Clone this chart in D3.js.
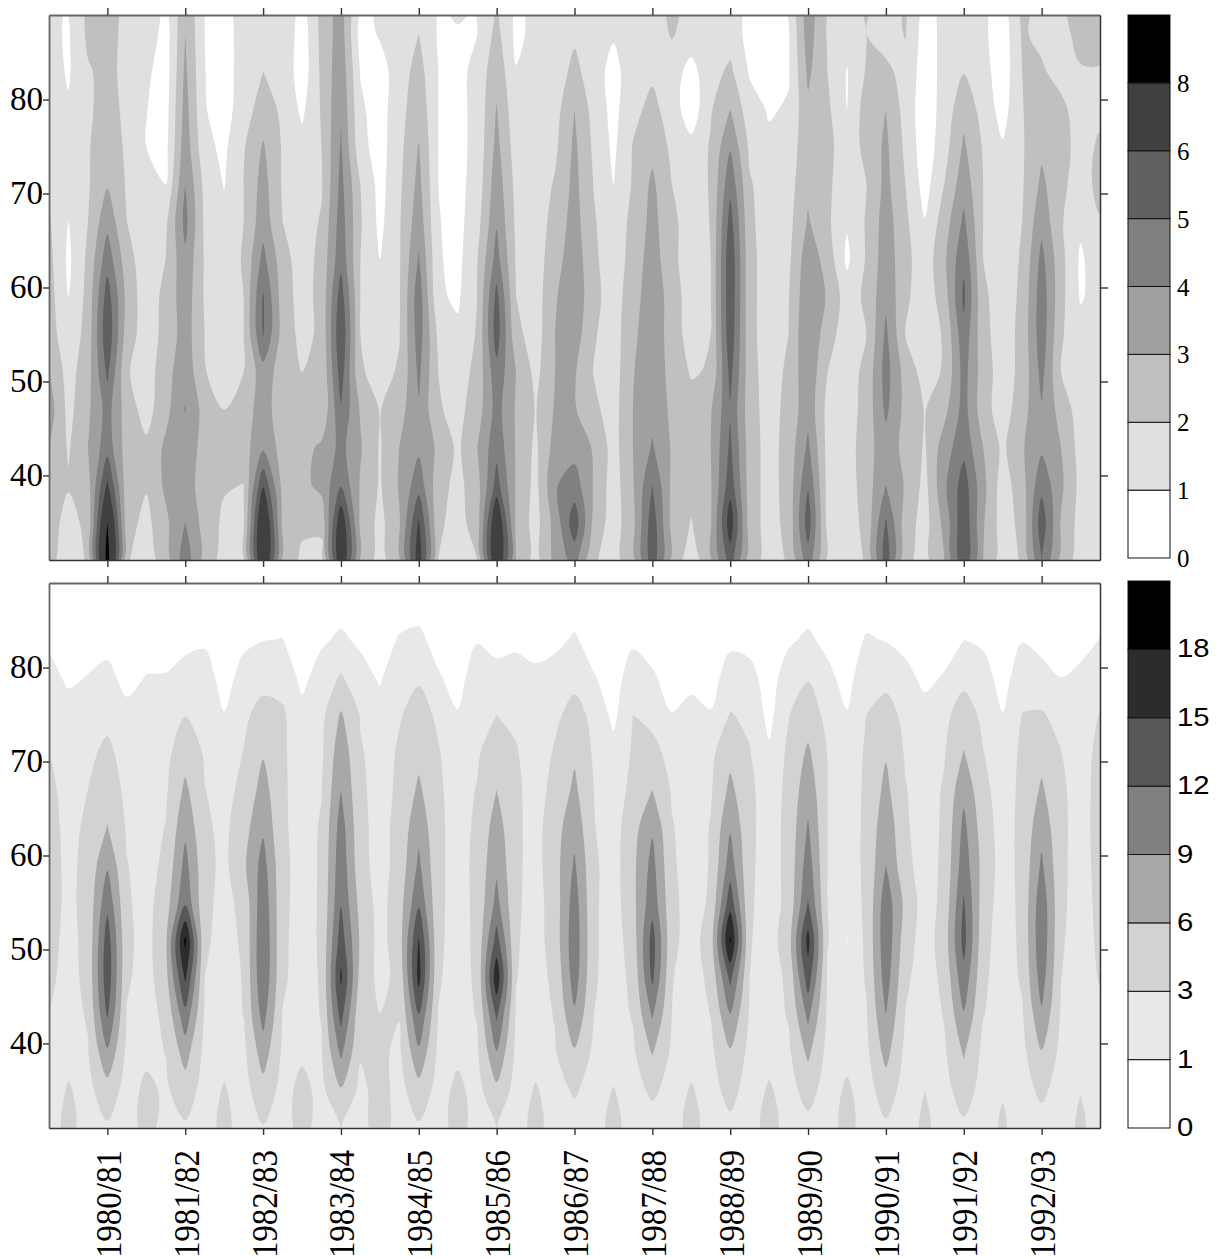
<!DOCTYPE html>
<html>
<head>
<meta charset="utf-8">
<script src="https://cdnjs.cloudflare.com/ajax/libs/d3/7.9.0/d3.min.js"></script>
<style>
  html, body { margin: 0; padding: 0; background: #fff; }
  svg { display: block; }
  .axis path { stroke: #666; stroke-width: 1.8; }
  .axis line { stroke: #333; stroke-width: 1.4; }
  .axis.dark path { stroke: #333; stroke-width: 1.5; }
</style>
</head>
<body>
<svg id="chart" width="1216" height="1258"></svg>
<script>
const serifFont = '"Liberation Serif", "Times New Roman", Times, serif';
const sansFont = '"Liberation Sans", Arial, Helvetica, sans-serif';

const seasons = ['1980/81', '1981/82', '1982/83', '1983/84', '1984/85', '1985/86', '1986/87',
  '1987/88', '1988/89', '1989/90', '1990/91', '1991/92', '1992/93'];
const latTicks = [40, 50, 60, 70, 80];

// grid rows: latitude of each value in a column
const lats = [31, 35, 39, 43, 47, 51, 55, 59, 63, 67, 71, 75, 79, 83, 87, 91];
// grid columns run from 9 months before the first season, 3 months apart
const firstStep = -0.75;
const stepYears = 0.25;

const topLevels = [1, 2, 3, 4, 5, 6, 8];
const topColors = ['#e0e0e0', '#c0c0c0', '#a0a0a0', '#808080', '#606060', '#404040', '#000000'];
const topBarLabels = ['0', '1', '2', '3', '4', '5', '6', '8'];

const bottomLevels = [1, 3, 6, 9, 12, 15, 18];
const bottomColors = ['#e8e8e8', '#d2d2d2', '#a8a8a8', '#808080', '#585858', '#2c2c2c', '#000000'];
const bottomBarLabels = ['0', '1', '3', '6', '9', '12', '15', '18'];

// one line per time step
const topCols = [
  [2.3,2.5,2.7,3.0,3.5,3.0,2.5,2.4,2.3,2.1,1.8,1.6,1.5,1.4,1.2,1.2],
  [1.5,1.6,2.1,1.9,1.7,1.6,1.3,1.0,0.8,1.0,1.3,1.4,1.1,0.9,0.9,0.9],
  [2.1,2.3,2.6,3.0,2.8,2.6,2.4,2.3,2.2,2.0,1.9,1.9,1.8,1.9,2.2,2.2],
  [8.6,8.0,6.2,4.6,4.4,5.2,5.8,5.5,4.6,3.7,2.9,2.7,2.5,2.3,2.5,2.5],
  [2.1,2.4,2.4,2.5,2.5,2.1,2.5,2.7,2.4,2.0,1.9,1.8,1.7,1.7,1.6,1.6],
  [1.5,1.7,2.1,2.2,1.6,1.5,1.5,1.4,1.4,1.3,1.1,1.0,1.03,1.2,1.8,2.2],
  [2.5,2.8,3.2,3.2,2.7,2.6,2.3,2.3,2.0,1.8,1.0,0.7,0.6,0.5,0.5,0.5],
  [4.6,4.0,3.4,3.5,4.05,3.7,3.5,3.6,3.8,4.3,4.0,3.6,3.4,3.2,3.0,2.7],
  [2.6,2.6,2.6,2.7,2.6,2.05,2.0,1.9,1.9,1.8,1.7,1.25,1.05,1.02,1.0,1.0],
  [1.6,1.8,2.1,2.4,2.0,1.5,1.5,1.4,1.4,1.3,0.95,0.8,0.6,0.6,0.6,0.6],
  [1.75,1.9,1.98,2.6,2.6,2.0,2.0,2.0,2.1,2.0,2.0,1.9,1.5,1.4,1.4,1.4],
  [7.6,7.6,5.9,3.8,3.4,3.6,5.05,5.1,4.3,3.6,3.4,3.1,2.5,2.0,1.7,1.7],
  [2.7,2.8,2.7,2.6,2.5,2.5,2.6,2.5,2.4,2.0,1.9,1.9,1.8,1.8,2.0,2.0],
  [1.8,2.2,2.7,2.6,2.4,2.0,1.7,1.6,1.5,1.5,1.4,1.3,0.8,0.4,0.4,0.4],
  [1.6,2.3,3.3,3.2,2.1,2.1,2.2,2.3,2.3,2.1,1.9,2.0,2.1,2.2,2.3,2.3],
  [7.2,6.9,4.9,4.3,4.9,5.5,5.9,5.5,4.7,4.5,4.3,4.1,3.9,3.7,3.5,3.4],
  [2.8,2.8,2.9,3.1,2.9,2.1,2.0,2.0,2.0,2.1,2.0,1.3,1.15,0.95,0.6,0.6],
  [1.6,1.7,1.9,1.9,1.95,1.7,1.6,1.5,1.0,0.75,0.65,0.6,0.6,0.6,1.1,1.2],
  [2.8,2.9,3.1,3.0,2.6,2.1,1.95,1.9,1.9,1.9,1.8,1.7,1.6,1.5,1.5,1.5],
  [6.6,6.1,4.6,3.8,3.9,4.2,4.5,4.6,4.1,3.6,3.3,3.05,2.7,2.4,2.0,1.7],
  [2.0,2.2,2.4,2.8,2.1,2.0,1.8,1.15,1.1,1.05,1.0,1.0,1.0,1.0,0.9,0.85],
  [1.6,1.6,1.7,1.8,1.7,1.5,1.2,0.85,0.7,0.7,0.7,0.7,0.7,0.7,0.9,1.3],
  [2.0,2.5,2.6,3.0,2.5,2.3,2.1,2.0,1.95,1.6,1.4,1.3,1.3,1.3,0.98,0.95],
  [7.4,7.2,5.4,4.7,4.4,4.7,5.5,5.3,4.4,3.9,3.6,3.3,3.05,2.7,2.3,1.9],
  [3.0,2.8,2.9,2.9,2.9,3.0,2.3,2.0,1.9,1.8,1.7,1.5,1.3,1.05,0.75,0.7],
  [1.6,1.6,1.7,1.8,1.95,1.7,1.5,1.5,1.5,1.4,1.4,1.4,1.4,1.3,1.3,1.3],
  [3.3,3.4,3.9,3.4,3.1,3.0,3.0,2.9,2.6,2.4,2.1,1.8,1.6,1.4,1.3,1.3],
  [4.4,5.6,4.5,3.6,3.1,3.1,3.5,3.7,3.6,3.4,3.3,3.2,3.0,2.3,1.8,1.4],
  [2.1,2.7,2.9,2.9,2.2,1.95,2.1,2.3,2.2,2.1,1.95,1.8,1.6,1.4,1.3,1.3],
  [1.6,1.5,1.5,1.6,1.6,1.5,1.5,1.5,1.4,1.3,1.0,0.8,0.7,0.7,1.1,1.2],
  [2.7,2.7,2.9,3.0,3.0,2.95,2.8,2.6,2.4,2.3,2.1,2.05,1.7,1.5,1.4,1.4],
  [5.6,5.6,5.0,4.1,3.7,3.6,3.6,3.6,3.5,3.3,3.2,2.7,2.3,1.8,1.4,1.4],
  [2.8,2.7,2.8,2.9,2.8,2.7,2.6,2.6,2.3,2.3,2.0,1.8,1.5,1.4,2.1,2.3],
  [1.3,1.95,2.3,2.5,2.4,1.9,1.5,1.4,1.4,1.4,1.4,1.3,0.4,0.7,1.5,1.6],
  [2.9,2.9,2.9,3.0,2.9,2.1,2.0,2.0,2.0,2.05,2.1,2.1,1.9,1.6,1.4,1.4],
  [5.5,6.6,5.6,5.2,4.9,5.3,5.7,5.8,5.8,5.4,4.7,3.9,3.0,2.2,1.5,1.4],
  [2.5,2.5,2.5,2.5,2.4,2.4,2.3,2.3,2.3,2.2,2.1,1.8,1.4,0.9,0.7,0.7],
  [1.6,1.6,1.6,1.6,1.6,1.5,1.5,1.5,1.5,1.5,1.5,1.2,0.9,0.7,0.5,0.5],
  [2.1,2.3,2.4,2.4,2.3,2.2,2.0,1.95,1.8,1.7,1.6,1.4,1.1,0.9,0.9,0.9],
  [4.6,5.5,4.9,4.2,3.7,3.8,4.0,3.8,3.6,3.1,2.8,2.7,2.8,3.2,3.5,3.6],
  [1.8,1.7,1.7,1.7,1.7,2.0,2.4,2.9,2.6,2.2,2.2,2.3,2.2,2.0,1.9,1.7],
  [1.5,1.5,1.5,1.5,1.5,1.5,1.5,1.5,0.8,1.1,1.4,1.4,0.98,0.95,1.4,1.5],
  [2.1,2.3,2.5,2.6,2.4,2.3,2.0,2.2,2.1,2.1,2.0,2.3,2.5,2.1,2.0,2.2],
  [5.6,5.1,4.0,3.6,4.2,4.4,4.2,3.8,3.6,3.5,3.3,3.2,3.0,2.2,1.6,1.6],
  [2.2,2.5,2.9,2.7,2.7,2.6,2.0,2.2,2.3,2.2,2.0,1.8,1.6,1.7,2.05,2.1],
  [1.7,1.6,1.7,1.9,1.95,1.6,1.5,1.4,1.4,1.05,0.6,0.4,0.4,0.5,0.5,0.5],
  [3.0,3.3,3.8,3.5,2.7,2.1,2.1,2.5,2.8,2.5,2.0,1.6,1.4,1.3,1.3,1.3],
  [5.9,5.8,5.5,4.7,4.4,4.4,4.7,5.2,4.8,4.2,3.6,3.15,2.7,1.95,1.6,1.6],
  [3.0,3.1,3.3,3.0,2.4,2.5,2.3,2.2,2.0,2.0,2.0,1.9,1.6,1.4,1.2,1.2],
  [1.5,1.5,1.5,1.8,1.5,1.5,1.5,1.5,1.5,1.5,1.5,1.1,0.6,0.4,0.4,0.4],
  [2.1,2.3,2.6,2.9,2.6,2.3,2.3,2.2,2.1,2.0,1.9,1.9,1.95,2.0,2.1,2.3],
  [5.0,5.6,4.7,3.8,3.9,4.3,4.6,4.6,4.3,3.7,3.2,2.8,2.6,2.1,1.8,1.7],
  [2.7,2.9,3.2,3.0,2.6,2.0,2.1,2.3,2.3,2.1,2.3,2.5,2.2,1.7,1.6,1.8],
  [1.5,1.6,1.7,1.6,1.5,1.4,1.4,0.9,0.85,1.2,1.4,1.5,1.6,1.9,2.4,2.6],
  [1.5,1.5,1.5,1.5,1.5,1.5,1.5,1.4,1.6,1.9,2.4,2.2,1.7,1.9,2.5,2.6]
];

// same grid, values
const bottomCols = [
  [1.7,1.8,2.0,3.0,3.6,3.9,4.1,4.2,4.0,3.6,2.9,2.2,1.57,.58,.25,.2],
  [3.8,3.2,2.4,2.0,2.0,2.2,2.4,2.3,2.2,2.1,2.0,1.72,.68,.4,.25,.2],
  [1.8,2.2,2.8,3.25,3.8,3.8,3.85,3.85,3.5,3.0,2.4,2.0,1.06,.3,.25,.2],
  [2.6,4.7,8.5,12.3,14,13.5,11.2,8.6,6.1,4.9,3.6,2.2,1.42,.48,.25,.2],
  [1.6,1.9,2.4,2.8,3.4,3.65,3.35,3.1,2.7,2.2,1.9,1.45,.5,.3,.25,.2],
  [4.0,3.6,2.4,1.9,1.8,1.9,2.0,2.0,1.9,1.9,1.9,1.9,1.06,.3,.25,.2],
  [2.0,2.6,3.05,3.65,5.0,5.4,4.6,3.6,3.1,2.6,2.2,2.0,1.09,.3,.25,.2],
  [2.6,4.5,7.2,11.0,15.5,18.6,11.5,10.0,8.3,6.6,4.8,2.9,1.57,.58,.25,.2],
  [1.7,1.9,2.2,2.7,3.0,3.45,3.65,3.9,3.5,3.05,2.7,2.2,1.78,.72,.25,.2],
  [3.8,3.2,2.3,1.9,1.9,2,2.2,2.3,2.3,2.2,1.9,1.06,.3,.2,.2,.2],
  [1.7,1.9,2.3,3.05,3.15,3.4,3.8,5.4,4.8,3.65,3.05,2.5,1.63,.62,.25,.2],
  [2.8,4.8,7.5,10.1,11.7,11.8,11.2,10.2,8.5,7.2,5.7,3.9,2.1,.94,.25,.2],
  [1.7,2.1,2.5,2.9,3.4,3.55,3.65,3.7,3.45,3.4,3.35,3.3,2.2,1.03,.25,.2],
  [4.0,3.7,2.6,2,1.9,1.8,1.9,1.9,1.9,1.9,1.8,1.5,.54,.3,.25,.2],
  [1.8,2.3,2.8,3.1,3.25,3.4,3.35,3.3,3.25,2.9,2.5,2.2,1.78,.72,.25,.2],
  [3.0,5.7,9.6,13,15.5,13.5,11.8,11.1,10.4,9.0,7.9,6.3,3.2,1.3,.25,.2],
  [1.9,2.3,3.3,3.6,4.9,5.5,4.9,3.95,3.8,3.55,3.25,2.8,1.69,.66,.25,.2],
  [4.4,4.1,3.5,3.05,2.2,2.0,2.0,1.9,1.9,1.9,1.9,1.84,.76,.3,.25,.2],
  [1.7,2.0,2.5,3.1,3.75,4.6,4.6,4.05,4.0,3.55,3.3,2.8,2.4,1.12,.25,.2],
  [2.6,4.8,8.4,11.9,16,15.2,11.5,9.6,8.1,6.5,5.2,3.9,2.7,1.39,.25,.2],
  [1.7,2.0,2.4,2.9,3.3,3.6,3.65,3.65,3.65,3.45,3.15,2.6,1.18,.32,.25,.2],
  [4.1,3.6,2.5,1.9,1.8,1.7,1.8,1.8,1.8,1.8,1.8,1.12,.3,.2,.2,.2],
  [1.8,2.1,2.6,3.15,3.5,3.7,3.7,3.8,3.55,3.15,2.6,2.3,1.99,.86,.25,.2],
  [3.0,5.2,8.8,12.5,17,13.2,9.9,8.4,7.4,6.0,4.9,3.0,1.48,.52,.25,.2],
  [1.7,1.9,2.3,2.7,3.1,3.3,3.45,3.5,3.5,3.45,3.15,2.6,1.66,.64,.25,.2],
  [3.9,3.2,2.3,1.9,1.8,1.8,1.9,2,2,2,1.9,1.8,1.33,.42,.25,.2],
  [1.7,2.1,2.8,3.15,3.7,4.4,4.4,4.8,4.7,3.8,3.2,2.6,1.63,.62,.25,.2],
  [1.9,3.3,5.6,8.5,10.5,11,10.5,9.4,8.1,6.6,5.5,3.7,2.4,1.18,.25,.2],
  [1.7,2.0,2.4,3.0,3.35,3.45,3.45,3.45,3.1,3.0,2.6,2.5,1.1,.3,.25,.2],
  [3.9,3.1,2.2,1.8,1.7,1.6,1.7,1.8,1.8,1.8,1.66,.5,.3,.2,.2,.2],
  [1.7,2.0,2.5,3.2,3.7,4.4,5.1,5.2,4.8,3.65,3.2,3.0,1.78,.72,.25,.2],
  [1.7,3.5,6.2,9.3,12.6,13.2,10.9,10,8.6,6.0,3.7,2.3,1.2,.32,.25,.2],
  [1.7,2.0,2.5,3.0,3.15,3.8,3.8,3.45,3.2,2.7,2.2,1.05,.4,.2,.2,.2],
  [4,3.2,2.2,1.8,1.7,1.7,1.7,1.7,1.7,1.7,1.6,1.5,.54,.3,.25,.2],
  [1.7,2.0,2.4,3.05,3.7,4.6,3.45,3.2,3.15,2.7,2.3,1.1,.4,.2,.2,.2],
  [2.3,3.9,5.6,8.8,12.8,18.4,13.8,10.5,8.7,6.7,5.1,3.1,1.69,.66,.25,.2],
  [1.6,1.8,2.2,2.7,3.0,3.2,3.4,3.55,3.65,3.6,3.1,2.6,1.5,.5,.25,.2],
  [4.2,3.3,2.2,1.8,1.7,1.7,1.7,1.7,1.7,1.6,1.3,.4,.3,.2,.2,.2],
  [1.7,2.0,2.5,3.2,3.6,4.7,3.8,3.9,3.85,3.7,3.4,2.9,1.78,.73,.25,.2],
  [2.2,4.0,6.6,9.7,13.6,16,12.2,10.6,9.3,8.0,6.5,4.5,2.8,1.3,.25,.2],
  [1.6,1.9,2.1,2.5,2.7,3.15,3.0,3.0,3.0,3.0,2.9,2.2,1.48,.5,.25,.2],
  [4,3.4,2.3,1.7,1.4,.95,1.5,1.6,1.7,1.7,1.6,1.12,.3,.2,.2,.2],
  [1.6,1.9,2.3,2.8,3.2,3.45,3.5,3.6,3.55,3.45,3.3,3.0,2.3,1.15,.25,.2],
  [2.5,4.4,7,9,10.5,11.2,10.8,9.0,8.1,6.8,5.7,4.2,2.1,.92,.25,.2],
  [1.6,1.9,2.3,2.9,3.55,4.4,5.2,3.8,3.4,3.15,2.7,2.2,1.48,.5,.25,.2],
  [3.6,3.0,2.1,1.7,1.6,1.6,1.6,1.7,1.7,1.7,1.7,1.6,.6,.3,.25,.2],
  [1.7,2.0,2.6,3.15,3.75,4.4,3.85,3.6,3.45,3.3,2.8,2.3,1.12,.3,.25,.2],
  [2.4,4.4,6.3,8.7,11.1,13,12.3,10.7,9.8,8.2,6.1,4.3,2.2,1.0,.25,.2],
  [1.6,1.9,2.2,3.1,3.55,3.95,4.4,4.9,4.4,3.75,3.05,2.4,1.71,.7,.25,.2],
  [3.4,2.8,2,1.7,1.6,1.6,1.7,1.8,1.8,1.7,1.6,1.06,.3,.2,.2,.2],
  [1.6,1.9,2.2,2.7,3.35,3.6,3.7,3.75,3.75,3.65,3.45,3.05,2.0,.9,.25,.2],
  [1.8,3.6,5.8,8.5,10.4,11.3,11,9.5,8.0,6.4,5.1,3.2,1.5,.52,.25,.2],
  [1.6,1.8,2.2,2.7,3.05,3.35,3.6,3.6,3.65,3.5,3.05,2.3,1.0,.3,.25,.2],
  [3.5,2.9,2,1.7,1.6,1.6,1.7,1.8,1.8,1.8,1.8,1.7,1.4,.4,.25,.2],
  [1.7,1.8,1.9,2.2,3.2,3.6,3.8,4.0,4.2,4.1,3.8,3.1,2.0,1.05,.25,.2]
];

const svg = d3.select('#chart');
const x = d3.scaleLinear().domain([firstStep, firstStep + stepYears * (topCols.length - 1)]).range([49, 1100]);

function drawPanel(id, cols, levels, colors, top, bottom, showSeasons) {
  const y = d3.scaleLinear().domain([31, 89]).range([bottom, top]);
  const nx = cols.length;
  const ny = lats.length;
  const values = [];
  for (let j = 0; j < ny; j++) for (let i = 0; i < nx; i++) values.push(cols[i][j]);

  svg.append('clipPath').attr('id', id)
    .append('rect').attr('x', 49).attr('y', top).attr('width', 1051).attr('height', bottom - top);

  const g = svg.append('g').attr('clip-path', `url(#${id})`);
  g.append('rect').attr('x', 49).attr('y', top).attr('width', 1051).attr('height', bottom - top).attr('fill', '#fff');

  // contour points sit half a cell off the grid index
  const ring = d3.line()
    .x((p) => x(firstStep + (p[0] - 0.5) * stepYears))
    .y((p) => y(lats[0] + (p[1] - 0.5) * (lats[1] - lats[0])))
    .curve(d3.curveCatmullRomClosed.alpha(0.5));

  const contours = d3.contours().size([nx, ny]).thresholds(levels)(values);
  contours.forEach((c, idx) => {
    const d = c.coordinates
      .flatMap((poly) => poly.map((r) => ring(r.slice(0, -1))))
      .join('');
    g.append('path').attr('d', d).attr('fill', colors[idx]).attr('fill-rule', 'evenodd');
  });

  const seasonVals = seasons.map((_, i) => i);
  const fmt = (d) => seasons[d];

  svg.append('g').attr('class', 'axis').attr('transform', `translate(0,${top})`)
    .call(d3.axisTop(x).tickValues(seasonVals).tickSize(7).tickSizeOuter(0).tickFormat(''));
  svg.append('g').attr('class', 'axis dark').attr('transform', 'translate(1100,0)')
    .call(d3.axisRight(y).tickValues(latTicks).tickSize(8).tickSizeOuter(0).tickFormat(''));

  const left = svg.append('g').attr('class', 'axis').attr('transform', 'translate(49,0)')
    .call(d3.axisLeft(y).tickValues(latTicks).tickSize(6).tickSizeOuter(0).tickFormat(d3.format('d')));
  left.selectAll('text')
    .attr('font-family', serifFont).attr('font-size', 33).attr('fill', '#000')
    .attr('x', -6).attr('dy', 10);

  const bot = svg.append('g').attr('class', 'axis dark').attr('transform', `translate(0,${bottom})`)
    .call(d3.axisBottom(x).tickValues(seasonVals).tickSize(7).tickSizeOuter(0).tickFormat(showSeasons ? fmt : ''));
  if (showSeasons) {
    bot.selectAll('text')
      .attr('font-family', serifFont)
      .attr('font-size', 33)
      .attr('fill', '#000')
      .attr('text-anchor', 'end')
      .attr('x', 0).attr('y', 0).attr('dy', 0)
      .attr('transform', 'translate(13,22) rotate(-90) scale(1,1.1)');
  }
}

function drawBar(barLabels, colors, top, bottom, font, labelSize, labelScale, baseline) {
  const fills = ['#ffffff'].concat(colors);
  const pos = d3.scaleLinear().domain([0, fills.length]).range([bottom, top]);
  const bar = svg.append('g');
  bar.selectAll('rect').data(fills).join('rect')
    .attr('x', 1128).attr('width', 42)
    .attr('y', (d, i) => pos(i + 1))
    .attr('height', (d, i) => pos(i) - pos(i + 1))
    .attr('fill', (d) => d)
    .attr('stroke', '#111')
    .attr('stroke-width', 1);

  svg.append('g').selectAll('text').data(barLabels).join('text')
    .attr('transform', (d, i) => `translate(1177,${pos(i) + baseline}) scale(${labelScale},1)`)
    .attr('font-family', font)
    .attr('font-size', labelSize)
    .attr('fill', '#000')
    .text((d) => d);
}

drawPanel('clip-top', topCols, topLevels, topColors, 15, 560, false);
drawPanel('clip-bottom', bottomCols, bottomLevels, bottomColors, 583, 1128, true);
drawBar(topBarLabels, topColors, 15, 558, serifFont, 25, 1, 9);
drawBar(bottomBarLabels, bottomColors, 581, 1128, sansFont, 25, 1.17, 8);
</script>
</body>
</html>
